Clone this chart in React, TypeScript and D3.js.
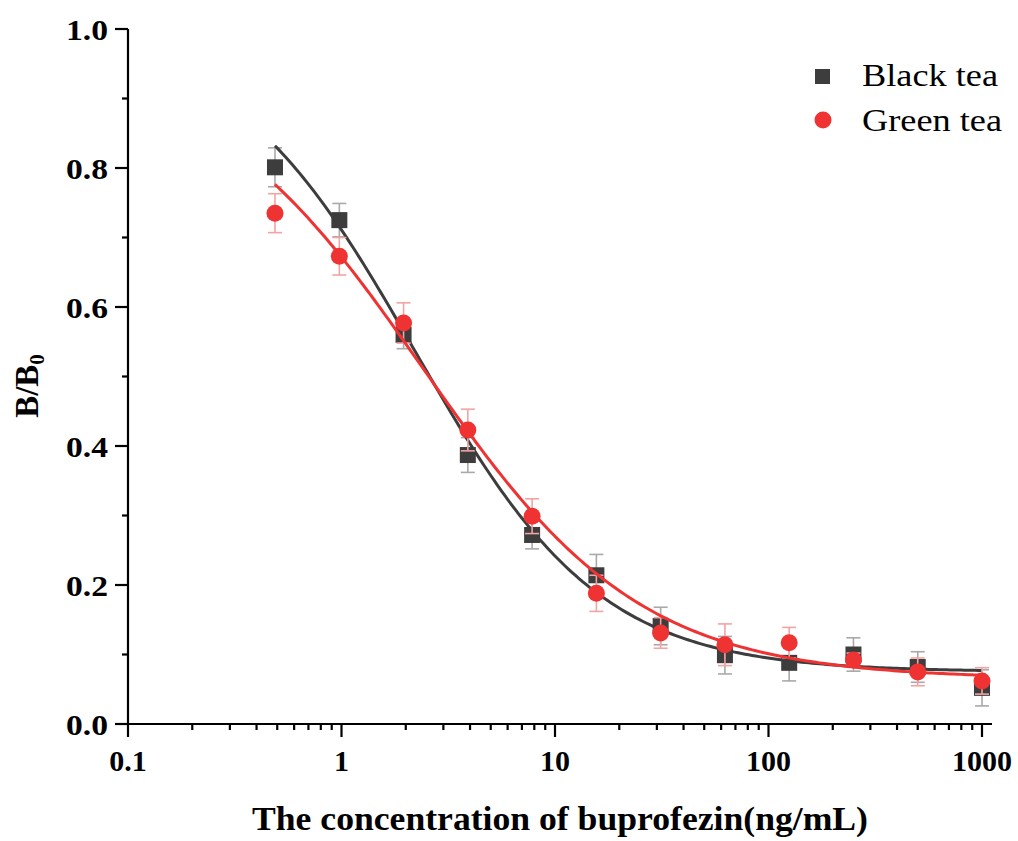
import React from 'react';
import * as d3 from 'd3';

// concentrations (ng/mL), 2-fold dilution series
const conc = [0.488, 0.977, 1.953, 3.906, 7.813, 15.625, 31.25, 62.5, 125, 250, 500, 1000];

const blackMean = [0.801, 0.725, 0.56, 0.387, 0.272, 0.214, 0.141, 0.099, 0.088, 0.1, 0.082, 0.052];
const blackErr = [0.028, 0.024, 0.02, 0.025, 0.02, 0.03, 0.027, 0.027, 0.026, 0.024, 0.022, 0.026];

const greenMean = [0.735, 0.673, 0.577, 0.423, 0.299, 0.188, 0.131, 0.114, 0.117, 0.092, 0.075, 0.062];
const greenErr = [0.028, 0.027, 0.029, 0.03, 0.025, 0.026, 0.022, 0.03, 0.022, 0.01, 0.02, 0.019];

// 4PL fit parameters: top, bottom, IC50, slope
const blackFit = { top: 1.0, bottom: 0.075, ic50: 2.2, slope: 1.0 };
const greenFit = { top: 0.96, bottom: 0.065, ic50: 2.4, slope: 0.85 };

const xMajor = [0.1, 1, 10, 100, 1000];
const xMajorLabels = ['0.1', '1', '10', '100', '1000'];
const yMajor = [0, 0.2, 0.4, 0.6, 0.8, 1.0];
const yMinor = [0.1, 0.3, 0.5, 0.7, 0.9];

const BLACK = '#3d3d3d';
const RED = '#ef3333';
const FONT = '"Liberation Serif", "Times New Roman", serif';

const x = d3.scaleLog().domain([0.1, 1000]).range([128, 982]);
const y = d3.scaleLinear().domain([0, 1]).range([724, 29]);

function logistic(p: typeof blackFit, c: number) {
  return p.bottom + (p.top - p.bottom) / (1 + Math.pow(c / p.ic50, p.slope));
}

function curvePath(p: typeof blackFit) {
  const xs = d3.range(0, 201).map(i => Math.pow(10, Math.log10(conc[0]) + (i / 200) * (3 - Math.log10(conc[0]))));
  return d3.line<number>().x(c => x(c)).y(c => y(logistic(p, c))).curve(d3.curveLinear)(xs) || '';
}

function ErrorBars({ mean, err, color }: { mean: number[]; err: number[]; color: string }) {
  return (
    <g stroke={color} strokeWidth={1.6} fill="none">
      {conc.map((c, i) => {
        const cx = x(c);
        const y1 = y(mean[i] + err[i]);
        const y2 = y(mean[i] - err[i]);
        return (
          <g key={i}>
            <line x1={cx} x2={cx} y1={y1} y2={y2} />
            <line x1={cx - 7} x2={cx + 7} y1={y1} y2={y1} />
            <line x1={cx - 7} x2={cx + 7} y1={y2} y2={y2} />
          </g>
        );
      })}
    </g>
  );
}

export default function App() {
  const minorX: number[] = [];
  [0.1, 1, 10, 100].forEach(d => {
    for (let k = 2; k <= 9; k++) minorX.push(d * k);
  });

  return (
    <svg width={1018} height={841} style={{ position: 'absolute', left: 0, top: 0, background: '#fff' }}>
      {/* axes */}
      <g stroke="#000" strokeWidth={2.2}>
        <line x1={128} x2={128} y1={29} y2={724} />
        <line x1={128} x2={992} y1={724} y2={724} />
        {yMajor.map(v => (
          <line key={'ym' + v} x1={115} x2={128} y1={y(v)} y2={y(v)} />
        ))}
        {yMinor.map(v => (
          <line key={'yn' + v} x1={122} x2={128} y1={y(v)} y2={y(v)} />
        ))}
        {xMajor.map(v => (
          <line key={'xm' + v} x1={x(v)} x2={x(v)} y1={724} y2={737} />
        ))}
        {minorX.map(v => (
          <line key={'xn' + v} x1={x(v)} x2={x(v)} y1={724} y2={730} />
        ))}
      </g>

      <g fontFamily={FONT} fontWeight="bold" fontSize={30} fill="#000">
        {yMajor.map(v => (
          <text key={'yl' + v} x={108} y={y(v)} dy="0.35em" textAnchor="end" textLength={42} lengthAdjust="spacingAndGlyphs">
            {v.toFixed(1)}
          </text>
        ))}
        {xMajor.map((v, i) => (
          <text key={'xl' + v} x={x(v)} y={771} textAnchor="middle">
            {xMajorLabels[i]}
          </text>
        ))}
        <text x={560} y={830} textAnchor="middle" fontSize={33} textLength={616} lengthAdjust="spacingAndGlyphs">
          The concentration of buprofezin(ng/mL)
        </text>
        <text transform="translate(38,386) rotate(-90)" textAnchor="middle" fontSize={33}>
          B/B<tspan fontSize={21} dy={6}>0</tspan>
        </text>
      </g>

      {/* black tea */}
      <ErrorBars mean={blackMean} err={blackErr} color="#a9a9a9" />
      <g fill={BLACK}>
        {conc.map((c, i) => (
          <rect key={i} x={x(c) - 8} y={y(blackMean[i]) - 8} width={16} height={16} />
        ))}
      </g>
      <path d={curvePath(blackFit)} fill="none" stroke={BLACK} strokeWidth={3} />

      {/* green tea */}
      <ErrorBars mean={greenMean} err={greenErr} color="#f4a3a3" />
      <g fill={RED}>
        {conc.map((c, i) => (
          <circle key={i} cx={x(c)} cy={y(greenMean[i])} r={8.5} />
        ))}
      </g>
      <path d={curvePath(greenFit)} fill="none" stroke={RED} strokeWidth={3} />

      {/* legend */}
      <rect x={815} y={69} width={15} height={15} fill={BLACK} />
      <circle cx={823} cy={120} r={8.5} fill={RED} />
      <g fontFamily={FONT} fontSize={32} fill="#000">
        <text x={862} y={86} textLength={136} lengthAdjust="spacingAndGlyphs">Black tea</text>
        <text x={862} y={131} textLength={140} lengthAdjust="spacingAndGlyphs">Green tea</text>
      </g>
    </svg>
  );
}
